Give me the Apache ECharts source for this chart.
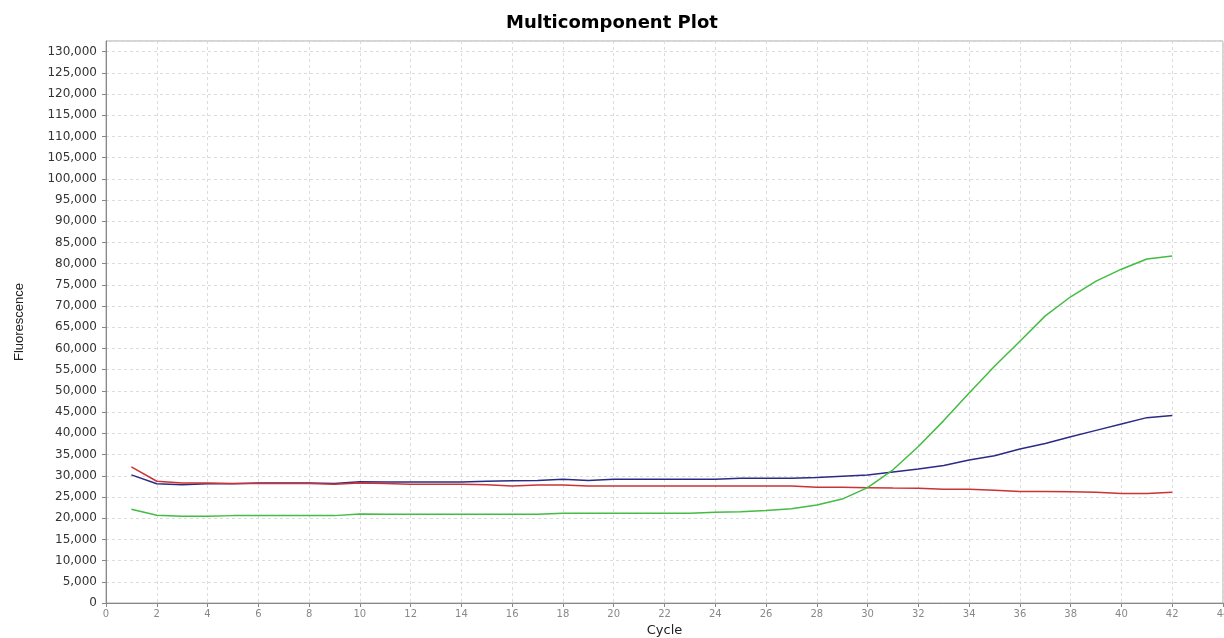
<html>
<head>
<meta charset="utf-8" />
<title>Multicomponent Plot</title>
<script src="https://cdn.jsdelivr.net/npm/echarts@6/dist/echarts.min.js"></script>
<style type="text/css">
html, body { margin: 0; padding: 0; background: #fff; }
#main { width: 1224px; height: 638px; }
</style>
</head>
<body>
<div id="main"></div>
<script type="text/javascript">
// cycle numbers 1..42
var cycles = [1, 2, 3, 4, 5, 6, 7, 8, 9, 10, 11, 12, 13, 14, 15, 16, 17, 18, 19, 20, 21,
	22, 23, 24, 25, 26, 27, 28, 29, 30, 31, 32, 33, 34, 35, 36, 37, 38, 39, 40, 41, 42];

// fluorescence
var redDye = [32100, 28700, 28300, 28300, 28200, 28200, 28200, 28200, 28000, 28300, 28200,
	28000, 28000, 28000, 27900, 27600, 27800, 27800, 27600, 27600, 27600, 27600, 27600, 27600,
	27600, 27600, 27600, 27300, 27300, 27200, 27100, 27050, 26800, 26800, 26600, 26300, 26300,
	26200, 26100, 25800, 25800, 26100];
var blueDye = [30200, 28100, 27900, 28100, 28100, 28300, 28300, 28300, 28200, 28600, 28500,
	28500, 28500, 28500, 28700, 28800, 28900, 29200, 28900, 29200, 29200, 29200, 29200, 29200,
	29400, 29400, 29400, 29600, 29900, 30200, 30900, 31600, 32400, 33700, 34700, 36300, 37600,
	39200, 40700, 42200, 43700, 44200];
var greenDye = [22100, 20700, 20450, 20450, 20600, 20600, 20600, 20600, 20600, 21000, 20950,
	20950, 20950, 20950, 20950, 20950, 20950, 21150, 21150, 21150, 21150, 21150, 21150, 21400,
	21500, 21800, 22200, 23100, 24500, 27200, 31400, 36900, 43000, 49500, 55800, 61700, 67700,
	72200, 75900, 78700, 81100, 81800];

function pairs(vals) {
	return cycles.map(function (c, i) { return [c, vals[i]]; });
}

var myChart = echarts.init(document.getElementById("main"));

var gridLine = { show: true, lineStyle: { color: "#dcdcdc", type: [3, 3], width: 1 } };

function lineSeries(name, vals, color) {
	return {
		name: name,
		type: "line",
		data: pairs(vals),
		showSymbol: false,
		lineStyle: { color: color, width: 1.5 },
		itemStyle: { color: color },
	};
}

var option = {
	backgroundColor: "#fff",
	animation: false,
	title: {
		text: "Multicomponent Plot",
		left: "center",
		top: 9,
		textStyle: { fontFamily: "DejaVu Sans", fontWeight: "bold", fontSize: 18, color: "#000" },
	},
	grid: {
		left: 106, right: 1, top: 41, bottom: 35,
		outerBoundsMode: "none",
		show: true, borderColor: "#aaa", borderWidth: 1,
	},
	xAxis: {
		type: "value",
		min: 0, max: 44, interval: 2,
		name: "Cycle",
		nameLocation: "middle",
		nameGap: 19,
		nameTextStyle: { fontFamily: "DejaVu Sans", fontSize: 13, color: "#222" },
		axisLine: { lineStyle: { color: "#888" } },
		axisTick: { show: true, length: 4, lineStyle: { color: "#888" } },
		axisLabel: { fontFamily: "DejaVu Sans", fontSize: 10, color: "#888", margin: 6 },
		splitLine: gridLine,
	},
	yAxis: {
		type: "value",
		min: 0, max: 132500, interval: 5000,
		name: "Fluorescence",
		nameLocation: "middle",
		nameGap: 80,
		nameTextStyle: { fontFamily: "Liberation Sans", fontSize: 13, color: "#222" },
		axisLine: { show: true, lineStyle: { color: "#888" } },
		axisTick: { show: true, length: 4, lineStyle: { color: "#888" } },
		axisLabel: {
			fontFamily: "DejaVu Sans", fontSize: 12, color: "#333", margin: 9,
			showMaxLabel: false,
			formatter: function (v) { return v.toLocaleString("en-US"); },
		},
		splitLine: gridLine,
	},
	series: [
		lineSeries("Blue", blueDye, "#2b2b86"),
		lineSeries("Red", redDye, "#cc3333"),
		lineSeries("Green", greenDye, "#44bb44"),
	],
};

myChart.setOption(option);
</script>
</body>
</html>
